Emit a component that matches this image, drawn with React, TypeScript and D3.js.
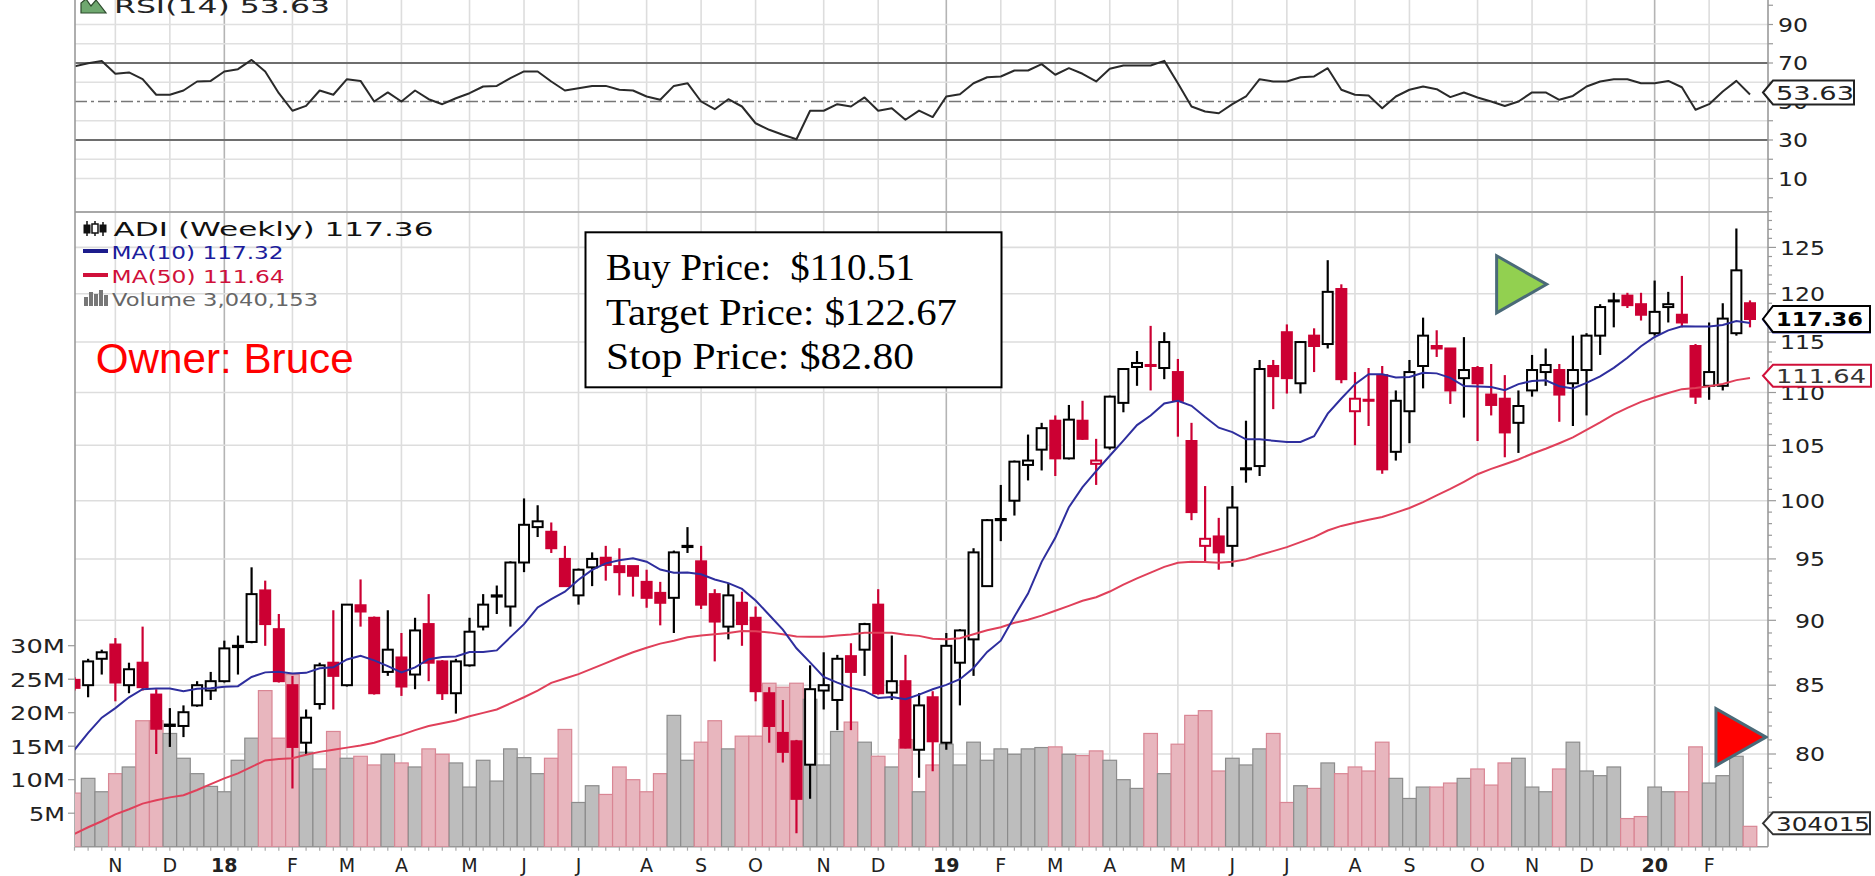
import React from 'react';
import * as d3 from 'd3';

// ---------- DATA (weekly ADI candles, starting week of Mon 16 Oct 2017) ----------
const startMonday = new Date(2017, 9, 16);
const priorClose = 85.5;

const opens = [
  85.4, 85.0, 87.0, 88.1, 85.0, 86.7, 84.3, 82.0, 82.0, 83.5,
  84.6, 85.3, 87.9, 88.3, 92.4, 89.3, 85.0, 80.8, 83.6, 86.7,
  85.0, 91.2, 90.2, 86.0, 87.1, 85.8, 89.7, 86.8, 84.4, 86.5,
  89.5, 91.9, 91.1, 94.7, 97.7, 97.3, 95.0, 92.0, 94.3, 95.1,
  94.4, 94.4, 93.1, 92.2, 91.8, 96.0, 94.8, 92.1, 89.5, 91.4,
  90.2, 84.4, 81.5, 80.9, 79.25, 84.6, 83.9, 87.2, 87.7, 91.25,
  84.45, 85.3, 80.3, 84.1, 80.8, 86.7, 88.5, 92.75, 98.3, 100.0,
  103.2, 104.6, 107.3, 103.8, 107.3, 103.3, 104.8, 109.0, 112.5, 112.7,
  112.4, 112.0, 105.4, 96.1, 96.9, 96.1, 102.8, 103.1, 112.6, 116.0,
  110.9, 115.65, 114.8, 120.5, 108.2, 109.3, 111.7, 104.4, 108.2, 112.6,
  114.6, 114.35, 111.4, 112.4, 109.8, 109.4, 107.1, 110.2, 112.0, 112.2,
  110.9, 112.2, 115.65, 119.2, 119.8, 118.9, 115.9, 118.6, 117.8, 114.6,
  110.65, 110.65, 115.9, 119.0,
];
const highs = [
  85.6, 87.0, 87.7, 88.6, 86.7, 89.5, 84.7, 83.3, 83.5, 85.3,
  86.0, 88.4, 88.8, 94.3, 93.2, 90.5, 85.7, 83.2, 86.7, 90.8,
  91.3, 93.3, 90.3, 90.8, 89.0, 90.2, 92.1, 86.9, 87.0, 90.2,
  92.1, 92.8, 94.8, 100.2, 99.6, 98.1, 96.1, 94.2, 95.55, 96.1,
  95.9, 94.4, 94.1, 93.1, 95.7, 97.7, 96.1, 92.5, 93.0, 92.3,
  91.1, 84.85, 83.9, 81.0, 86.5, 87.5, 87.3, 88.2, 89.8, 92.5,
  88.8, 87.3, 84.4, 84.55, 89.0, 89.3, 95.9, 98.4, 101.4, 103.6,
  106.0, 107.1, 107.8, 108.8, 109.2, 105.6, 109.7, 112.4, 114.1, 116.65,
  116.0, 113.3, 107.1, 101.3, 98.5, 101.3, 107.3, 113.2, 113.2, 116.8,
  115.1, 116.4, 123.6, 121.0, 112.0, 112.4, 112.6, 110.2, 113.2, 117.5,
  116.2, 114.4, 115.5, 112.6, 112.8, 111.7, 110.2, 113.7, 114.35, 112.8,
  115.65, 115.9, 118.9, 120.1, 120.1, 120.1, 121.4, 120.2, 121.9, 114.8,
  117.0, 119.0, 127.1, 119.3,
];
const lows = [
  84.6, 84.1, 85.8, 83.8, 84.4, 84.6, 80.0, 80.5, 81.2, 83.4,
  83.9, 85.2, 85.8, 88.2, 88.0, 85.2, 77.6, 80.0, 83.2, 83.2,
  84.9, 89.5, 84.3, 85.7, 84.2, 84.7, 85.3, 83.9, 82.9, 86.4,
  89.2, 90.5, 89.5, 93.9, 96.85, 95.5, 92.7, 91.25, 92.75, 93.2,
  92.0, 91.9, 91.0, 89.6, 89.0, 95.5, 90.9, 86.8, 88.5, 88.0,
  83.8, 80.8, 79.4, 74.6, 76.9, 83.2, 81.7, 81.7, 85.7, 84.3,
  83.9, 80.4, 78.35, 78.8, 80.3, 83.5, 85.7, 92.7, 96.5, 98.7,
  101.8, 102.7, 102.2, 103.7, 105.5, 101.4, 104.6, 108.1, 110.65, 110.2,
  111.3, 105.8, 98.3, 94.8, 94.1, 94.35, 101.6, 102.2, 108.4, 109.9,
  109.9, 112.0, 114.35, 110.9, 105.0, 106.8, 102.4, 103.6, 105.2, 110.4,
  113.5, 108.9, 107.6, 105.4, 107.8, 103.9, 104.3, 109.6, 110.65, 107.2,
  106.8, 107.8, 113.7, 116.5, 118.5, 117.2, 115.65, 117.0, 116.5, 108.9,
  109.3, 110.2, 115.65, 116.5,
];
const closes = [
  84.8, 86.8, 87.5, 85.2, 86.2, 84.85, 81.8, 82.1, 83.0, 85.0,
  85.3, 87.8, 88.0, 92.1, 89.7, 85.3, 80.5, 82.6, 86.5, 85.7,
  91.25, 90.7, 84.4, 87.7, 84.9, 89.2, 86.7, 84.4, 86.8, 89.1,
  91.25, 92.0, 94.7, 97.9, 98.2, 95.9, 92.75, 94.1, 95.0, 94.5,
  93.9, 93.6, 91.8, 91.4, 95.55, 96.1, 91.25, 89.9, 92.0, 89.7,
  84.55, 82.0, 80.15, 76.9, 84.7, 85.0, 87.0, 86.0, 89.7, 84.4,
  85.3, 80.45, 83.5, 80.9, 88.0, 89.2, 95.55, 98.3, 98.4, 103.5,
  103.6, 106.6, 103.8, 107.4, 105.6, 103.6, 109.6, 112.3, 112.9, 112.6,
  115.0, 109.2, 99.0, 96.7, 95.55, 99.4, 102.9, 112.3, 111.6, 111.4,
  115.0, 114.6, 120.2, 111.3, 109.4, 109.2, 102.8, 109.2, 112.0, 115.65,
  114.35, 110.2, 112.2, 110.9, 108.8, 106.2, 108.7, 112.2, 112.7, 109.8,
  112.2, 115.65, 118.6, 119.3, 118.8, 117.8, 118.1, 118.9, 117.0, 109.6,
  112.0, 117.4, 122.5, 117.36,
];
// weekly volume, millions of shares
const volumesM = [
  8.0, 10.2, 8.2, 10.9, 11.9, 18.8, 18.8, 16.9, 13.2, 10.9,
  9.0, 8.2, 12.9, 16.2, 23.3, 16.2, 25.7, 14.1, 11.6, 17.2,
  13.2, 13.5, 12.2, 13.8, 12.5, 11.9, 14.6, 13.8, 12.5, 8.9,
  12.9, 9.8, 14.6, 13.3, 10.9, 13.2, 17.5, 6.6, 9.1, 7.8,
  11.9, 10.0, 8.2, 10.9, 19.6, 12.9, 15.6, 18.8, 14.6, 16.5,
  16.5, 24.4, 23.8, 24.4, 22.0, 12.2, 17.2, 18.6, 15.6, 13.5,
  11.9, 16.0, 8.2, 12.2, 15.3, 12.2, 15.6, 12.9, 14.6, 13.8,
  14.6, 14.8, 14.9, 13.8, 13.6, 14.3, 12.9, 10.0, 8.7, 16.9,
  10.9, 15.3, 19.6, 20.3, 11.3, 13.2, 12.2, 14.6, 16.9, 6.6,
  9.1, 8.7, 12.5, 10.9, 11.9, 11.3, 15.6, 10.2, 7.2, 8.9,
  8.9, 9.5, 10.2, 11.6, 9.2, 12.5, 13.2, 8.9, 8.2, 11.6,
  15.6, 11.3, 10.6, 11.9, 4.2, 4.5, 8.9, 8.2, 8.2, 14.9,
  9.5, 10.6, 13.5, 3.04,
];
const rsi14 = [
  68.2, 69.9, 71.0, 64.4, 65.1, 61.6, 53.5, 53.5, 55.7, 60.4,
  60.7, 65.6, 66.8, 71.6, 65.6, 54.3, 45.2, 47.7, 55.7, 53.5,
  61.6, 60.7, 50.0, 54.7, 50.0, 55.7, 51.2, 48.6, 51.7, 54.3,
  57.8, 58.1, 62.1, 65.6, 65.6, 60.4, 55.7, 56.9, 58.1, 58.1,
  56.1, 55.7, 52.6, 50.9, 58.1, 59.5, 50.0, 46.0, 51.2, 47.4,
  38.7, 35.3, 32.7, 30.4, 45.2, 45.2, 48.6, 47.4, 52.1, 45.2,
  46.5, 40.5, 45.3, 41.9, 52.6, 53.8, 59.5, 62.6, 63.0, 66.1,
  66.1, 69.4, 63.9, 67.3, 64.4, 60.4, 67.0, 68.7, 68.7, 68.7,
  71.1, 59.5, 47.4, 44.8, 43.9, 48.6, 52.6, 61.6, 60.4, 60.4,
  62.6, 63.0, 67.3, 56.1, 53.5, 53.1, 46.5, 52.6, 56.1, 57.8,
  56.4, 52.3, 54.7, 52.1, 50.0, 47.7, 50.0, 54.7, 54.7, 50.9,
  52.9, 57.8, 60.4, 61.6, 61.6, 59.5, 59.5, 60.7, 57.4, 45.7,
  48.6, 55.2, 60.7, 53.63,
];
// moving-average values before enough visible history exists
const ma10Lead = [80.3, 81.5, 82.6, 83.3, 84.1, 84.7, 84.75, 84.75, 84.55];
const ma50Lead = [
  74.57, 75.0, 75.4, 75.86, 76.2, 76.58, 76.8, 77.0, 77.15, 77.5,
  77.9, 78.3, 78.65, 79.1, 79.55, 79.65, 79.7, 79.95, 80.15, 80.3,
  80.45, 80.6, 80.8, 81.1, 81.36, 81.7, 82.0, 82.2, 82.4, 82.7,
  82.95, 83.2, 83.65, 84.1, 84.6, 85.17, 85.5, 85.83, 86.25, 86.67,
  87.1, 87.5, 87.85, 88.17, 88.4, 88.67, 88.8, 88.9, 89.0,
];
const priceTicks = [80, 85, 90, 95, 100, 105, 110, 115, 120, 125];
const rsiTicks = [90, 70, 50, 30, 10];
const rsiGrid = [10, 20, 30, 40, 50, 60, 70, 80, 90];
const volTicks = [5, 10, 15, 20, 25, 30];
const monthLetters = ['J', 'F', 'M', 'A', 'M', 'J', 'J', 'A', 'S', 'O', 'N', 'D'];
const infoLines = ['Buy Price:  $110.51', 'Target Price: $122.67', 'Stop Price: $82.80'];
const greenMarker = { i: 104.4, price: 121.0 };
const redMarker = { i: 120.5, price: 81.2 };

// ---------- LAYOUT ----------
const W = 1875, H = 876;
const L = 75, R = 1768;
const PT = 212, PB = 846.7;
const N = closes.length;
const x = d3.scaleLinear().domain([0, N - 1]).range([74.5, 1750]);
const yP = d3.scaleLog().domain([80, 125]).range([754, 247.4]);
const yV = d3.scaleLinear().domain([0, 30]).range([PB, 645.7]);
const yR = d3.scaleLinear().domain([30, 70]).range([140, 63]);

const RED = '#cc0033';
const dates = d3.range(N).map((i) => d3.timeDay.offset(startMonday, i * 7));
const monthIdx = d3.range(1, N).filter((i) => dates[i].getMonth() !== dates[i - 1].getMonth());

const ma10 = closes.map((c, i) => (i < 9 ? ma10Lead[i] : (d3.mean(closes.slice(i - 9, i + 1)) as number)));
const ma50 = closes.map((c, i) => (i < 49 ? ma50Lead[i] : (d3.mean(closes.slice(i - 49, i + 1)) as number)));

const maLine = d3.line<number>().x((d, i) => x(i)).y((d) => yP(d));
const rsiLine = d3.line<number>().x((d, i) => x(i)).y((d) => yR(d));

function Tag({ y, right, h, stroke, text, tw, bold, color }: any) {
  const tip = 1763;
  const p = `M${tip},${y} L${tip + 10},${y - h / 2} L${right},${y - h / 2} L${right},${y + h / 2} L${tip + 10},${y + h / 2} Z`;
  return (
    <g>
      <path d={p} fill="#fff" stroke={stroke} strokeWidth={2} />
      {text ? (
        <text x={1776} y={y + 7.5} fontSize={20} fontFamily="DejaVu Sans" fontWeight={bold ? 'bold' : 'normal'}
          fill={color} textLength={tw} lengthAdjust="spacingAndGlyphs">{text}</text>
      ) : null}
    </g>
  );
}

export default function App() {
  const up = (i: number) => closes[i] >= (i ? closes[i - 1] : priorClose);
  const gx = (i: number) => x(i);

  const gTri = (m: any, fill: string) => {
    const lx = x(m.i), ty = yP(m.price);
    return <path d={`M${lx},${ty - 28.5} L${lx},${ty + 28.5} L${lx + 50},${ty} Z`} fill={fill} stroke="#4a6a78" strokeWidth={3} strokeLinejoin="miter" />;
  };

  const minorTicks = d3.range(75, 130);

  return (
    <svg width={W} height={H} style={{ position: 'absolute', left: 0, top: 0, background: '#fff' }}
      xmlns="http://www.w3.org/2000/svg">
      <defs>
        <clipPath id="cp"><rect x={L} y={PT} width={R - L} height={PB - PT} /></clipPath>
        <clipPath id="cr"><rect x={L} y={0} width={R - L} height={PT} /></clipPath>
      </defs>
      <rect x={0} y={0} width={W} height={H} fill="#fff" />

      {/* vertical month gridlines */}
      {monthIdx.map((i) => (
        <line key={'vg' + i} x1={gx(i)} x2={gx(i)} y1={0} y2={PB}
          stroke={dates[i].getMonth() === 0 ? '#b4b4b4' : '#dddddd'} strokeWidth={1.6} />
      ))}
      {/* RSI gridlines */}
      {rsiGrid.filter((v) => v !== 70 && v !== 30 && v !== 50).map((v) => (
        <line key={'rg' + v} x1={L} x2={R} y1={yR(v)} y2={yR(v)} stroke="#e0e0e0" strokeWidth={1.6} />
      ))}
      {/* price gridlines */}
      {priceTicks.map((v) => (
        <line key={'pg' + v} x1={L} x2={R} y1={yP(v)} y2={yP(v)} stroke="#dddddd" strokeWidth={1.6} />
      ))}

      {/* RSI reference lines */}
      <line x1={L} x2={R} y1={yR(70)} y2={yR(70)} stroke="#6e6e6e" strokeWidth={2} />
      <line x1={L} x2={R} y1={yR(30)} y2={yR(30)} stroke="#6e6e6e" strokeWidth={2} />
      <line x1={L} x2={R} y1={yR(50)} y2={yR(50)} stroke="#777" strokeWidth={1.6} strokeDasharray="12,4,3,4" />
      <g clipPath="url(#cr)">
        <path d={rsiLine(rsi14) as string} fill="none" stroke="#2a2a2a" strokeWidth={2} strokeLinejoin="round" />
      </g>

      {/* panel borders */}
      <line x1={L} x2={R} y1={PT} y2={PT} stroke="#a8a8a8" strokeWidth={2} />
      <line x1={L} x2={L} y1={0} y2={PB} stroke="#9a9a9a" strokeWidth={1.6} />
      <line x1={R} x2={R} y1={0} y2={PB} stroke="#9a9a9a" strokeWidth={1.6} />
      <line x1={L} x2={R} y1={PB} y2={PB} stroke="#9a9a9a" strokeWidth={1.6} />

      <g clipPath="url(#cp)">
        {/* volume */}
        {volumesM.map((v, i) => (
          <rect key={'v' + i} x={gx(i) - 6.8} y={yV(v)} width={13.6} height={PB - yV(v)}
            fill={up(i) ? '#bdbdbd' : '#e8b6be'} stroke={up(i) ? '#8c8c8c' : '#d98694'} strokeWidth={1.2} />
        ))}
        {/* candles */}
        {closes.map((c, i) => {
          const o = opens[i];
          const col = up(i) ? '#000' : RED;
          const hollow = c >= o;
          const top = yP(Math.max(o, c));
          const bot = yP(Math.min(o, c));
          const hgt = Math.max(1, bot - top);
          return (
            <g key={'c' + i}>
              <line x1={gx(i)} x2={gx(i)} y1={yP(highs[i])} y2={yP(lows[i])} stroke={col} strokeWidth={2.2} />
              <rect x={gx(i) - 5} y={top} width={10} height={hgt}
                fill={hollow ? '#fff' : col} stroke={col} strokeWidth={2} />
            </g>
          );
        })}
        {/* moving averages */}
        <path d={maLine(ma50) as string} fill="none" stroke="#e0405a" strokeWidth={2} />
        <path d={maLine(ma10) as string} fill="none" stroke="#2e2e9e" strokeWidth={2} />
        {gTri(greenMarker, '#92d050')}
        {gTri(redMarker, '#ff0000')}
      </g>

      {/* weekly ticks on the time axis */}
      {closes.map((c, i) => (
        <line key={'wt' + i} x1={gx(i)} x2={gx(i)} y1={PB} y2={PB + 4} stroke="#aaa" strokeWidth={1.2} />
      ))}
      {/* right axis ticks */}
      {minorTicks.map((v) => (
        <line key={'mt' + v} x1={R} x2={R + (v % 5 === 0 ? 8 : 4)} y1={yP(v)} y2={yP(v)} stroke="#999" strokeWidth={1.2} />
      ))}
      {d3.range(0, 101, 10).map((v) => (
        <line key={'rt' + v} x1={R} x2={R + 5} y1={yR(v)} y2={yR(v)} stroke="#999" strokeWidth={1.2} />
      ))}
      {/* volume ticks on the left */}
      {volTicks.map((v) => (
        <line key={'vt' + v} x1={68} x2={L} y1={yV(v)} y2={yV(v)} stroke="#999" strokeWidth={1.2} />
      ))}
      {/* price labels */}
      {priceTicks.map((v) => (
        <text key={'pl' + v} x={1825} y={yP(v) + 7.3} fontSize={20} fontFamily="DejaVu Sans" fill="#222"
          textAnchor="end" textLength={String(v).length * 15} lengthAdjust="spacingAndGlyphs">{v}</text>
      ))}
      {/* RSI labels */}
      {rsiTicks.map((v) => (
        <text key={'rl' + v} x={1778} y={yR(v) + 7.3} fontSize={20} fontFamily="DejaVu Sans" fill="#222"
          textLength={30} lengthAdjust="spacingAndGlyphs">{v}</text>
      ))}
      {/* volume labels */}
      {volTicks.map((v) => (
        <text key={'vl' + v} x={65} y={yV(v) + 7.3} fontSize={20} fontFamily="DejaVu Sans" fill="#222"
          textAnchor="end" textLength={v >= 10 ? 55 : 36} lengthAdjust="spacingAndGlyphs">{v + 'M'}</text>
      ))}
      {/* x labels */}
      {monthIdx.map((i) => {
        const m = dates[i].getMonth();
        const isYear = m === 0;
        const lab = isYear ? String(dates[i].getFullYear()).slice(2) : monthLetters[m];
        return (
          <text key={'xl' + i} x={gx(i)} y={872} fontSize={19} fontFamily="DejaVu Sans"
            fontWeight={isYear ? 'bold' : 'normal'} fill="#222" textAnchor="middle">{lab}</text>
        );
      })}

      {/* value tags */}
      <Tag y={yR(53.63) - 2} right={1854} h={24} stroke="#222" text="53.63" tw={78} color="#222" />
      <Tag y={yP(117.32)} right={1870} h={26} stroke="#2e2e9e" text="" tw={1} color="#222" />
      <Tag y={yP(117.36)} right={1870} h={26} stroke="#000" text="117.36" tw={87} bold color="#000" />
      <Tag y={yP(111.64)} right={1871} h={22} stroke="#d0103a" text="111.64" tw={90} color="#333" />
      <Tag y={yV(3.040153) - 3} right={1870} h={22} stroke="#333" text="304015" tw={94} color="#222" />

      {/* RSI legend */}
      <path d="M81,13 L81,3 L86,-1 L91,6 L96,0 L106,13 Z" fill="#6fa86f" stroke="#2c4a2c" strokeWidth={1.2} />
      <text x={114} y={13} fontSize={20} fontFamily="DejaVu Sans" fill="#222" textLength={216}
        lengthAdjust="spacingAndGlyphs">RSI(14) 53.63</text>

      {/* price legend */}
      <g fill="#111" stroke="#111">
        <line x1={87} x2={87} y1={221} y2={236} strokeWidth={1.5} />
        <rect x={84} y={225} width={6} height={8} strokeWidth={1} />
        <line x1={95} x2={95} y1={221} y2={236} strokeWidth={1.5} />
        <rect x={92} y={224} width={6} height={9} fill="#fff" strokeWidth={1.5} />
        <line x1={103} x2={103} y1={222} y2={236} strokeWidth={1.5} />
        <rect x={100} y={225} width={6} height={7} strokeWidth={1} />
      </g>
      <text x={113.5} y={236} fontSize={19} fontFamily="DejaVu Sans" fill="#111" textLength={320}
        lengthAdjust="spacingAndGlyphs">ADI (Weekly) 117.36</text>
      <line x1={83} x2={108} y1={251} y2={251} stroke="#1c1c8c" strokeWidth={4} />
      <text x={111.6} y={258.5} fontSize={17} fontFamily="DejaVu Sans" fill="#1c1c9c" textLength={172}
        lengthAdjust="spacingAndGlyphs">MA(10) 117.32</text>
      <line x1={83} x2={108} y1={275} y2={275} stroke="#d0103a" strokeWidth={4} />
      <text x={111.6} y={282.5} fontSize={17} fontFamily="DejaVu Sans" fill="#d0103a" textLength={173}
        lengthAdjust="spacingAndGlyphs">MA(50) 111.64</text>
      <g fill="#777">
        <rect x={84} y={297} width={4} height={9} />
        <rect x={89} y={292} width={4} height={14} />
        <rect x={94} y={294} width={4} height={12} />
        <rect x={99} y={290} width={4} height={16} />
        <rect x={104} y={295} width={4} height={11} />
      </g>
      <text x={112} y={306} fontSize={17} fontFamily="DejaVu Sans" fill="#666" textLength={206}
        lengthAdjust="spacingAndGlyphs">Volume 3,040,153</text>

      {/* owner */}
      <text x={95.7} y={373} fontSize={43} fontFamily="Liberation Sans" fill="#ff0000" textLength={258}
        lengthAdjust="spacingAndGlyphs">Owner: Bruce</text>

      {/* info box */}
      <rect x={585.5} y={232.3} width={416} height={155} fill="#fff" stroke="#000" strokeWidth={2} />
      {infoLines.map((t, k) => (
        <text key={'il' + k} x={606} y={[279.8, 325, 368.5][k]} fontSize={38} fontFamily="Liberation Serif"
          fill="#000" xmlSpace="preserve" style={{ whiteSpace: 'pre' }}
          textLength={[309, 351, 308][k]} lengthAdjust="spacingAndGlyphs">{t}</text>
      ))}
    </svg>
  );
}
